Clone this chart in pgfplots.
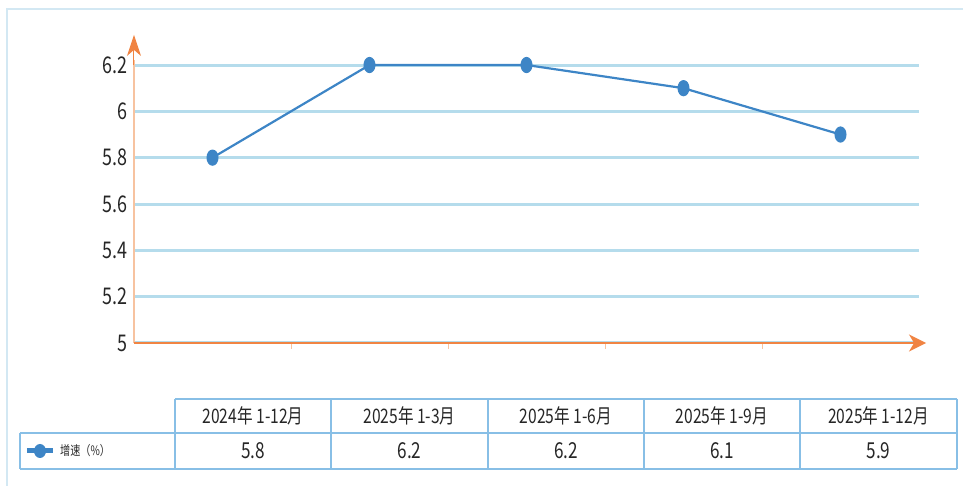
\documentclass[border=0pt]{standalone}
\usepackage{pgfplots}
\pgfplotsset{compat=1.18}
\usepackage{fontspec}
\setmainfont[FakeStretch=0.78]{Noto Sans CJK SC}
\usetikzlibrary{arrows.meta}
\definecolor{lineblue}{HTML}{3D85C6}
\definecolor{gridblue}{HTML}{B5DCEC}
\definecolor{axisorange}{HTML}{F08443}
\definecolor{lightorange}{HTML}{F7C3A0}
\definecolor{tableblue}{HTML}{88BFE6}
\definecolor{borderblue}{HTML}{D3E8F3}
\definecolor{textgray}{HTML}{262626}
\begin{document}
\begin{tikzpicture}
\path[use as bounding box] (-134pt,-143pt) rectangle (829pt,343pt);
\begin{axis}[
  at={(0,0)}, anchor=south west,
  scale only axis, width=785pt, height=280.3pt,
  xmin=0, xmax=5, ymin=5, ymax=6.21,
  axis line style={draw=none},
  xtick=\empty,
  ytick={5,5.2,5.4,5.6,5.8,6,6.2},
  yticklabels={5,5.2,5.4,5.6,5.8,6,6.2},
  major tick length=0pt, tick style={draw=none},
  ymajorgrids, grid style={gridblue, line width=3pt},
  yticklabel style={inner sep=0pt, xshift=-6pt, font=\fontsize{23}{23}\selectfont, text=textgray},
  /pgf/number format/assume math mode=true,
  clip=false,
]
\draw[lightorange, line width=2pt] (axis cs:0,5) -- (axis cs:0,6.22);
\draw[axisorange, line width=1pt, -{Stealth[length=21pt,width=14pt,inset=6pt]}] (axis cs:0,6.2) -- (axis cs:0,6.33);
\draw[lightorange, line width=1pt] (axis cs:1,5) -- (axis cs:1,4.974);
\draw[lightorange, line width=1pt] (axis cs:2,5) -- (axis cs:2,4.974);
\draw[lightorange, line width=1pt] (axis cs:3,5) -- (axis cs:3,4.974);
\draw[lightorange, line width=1pt] (axis cs:4,5) -- (axis cs:4,4.974);
\draw[axisorange, line width=2.5pt, -{Stealth[length=17pt,width=17pt,inset=5pt]}] (axis cs:0,5) -- (axis cs:5.045,5);
\addplot[lineblue, line width=2.2pt, mark=*, mark size=7pt, mark options={xscale=0.7, fill=lineblue, draw=lineblue}]
  coordinates {(0.5,5.8) (1.5,6.2) (2.5,6.2) (3.5,6.1) (4.5,5.9)};
\end{axis}
% page border (faint)
\draw[borderblue, line width=1.5pt] (-127pt,-143pt) -- (-127pt,334pt) -- (829pt,334pt);
% table
\begin{scope}[tableblue, line width=1.8pt]
\draw (41pt,-56pt) -- (823pt,-56pt);
\draw (-114pt,-90pt) -- (823pt,-90pt);
\draw (-114pt,-126pt) -- (823pt,-126pt);
\draw (-114pt,-90pt) -- (-114pt,-126pt);
\foreach \xx in {41,197,354,510,666,823} {\draw (\xx pt,-56pt) -- (\xx pt,-126pt);}
\end{scope}
\foreach \xx/\hh/\vv in {119/{2024年 1-12月}/5.8, 275.5/{2025年 1-3月}/6.2, 432/{2025年 1-6月}/6.2, 588/{2025年 1-9月}/6.1, 744.5/{2025年 1-12月}/5.9} {
  \node[text=textgray, font=\fontsize{20}{20}\selectfont, inner sep=0pt] at (\xx pt,-73pt) {\hh};
  \node[text=textgray, font=\fontsize{22}{22}\selectfont, inner sep=0pt] at (\xx pt,-108pt) {\vv};
}
% legend icon
\draw[lineblue, line width=5pt] (-107pt,-108pt) -- (-81pt,-108pt);
\fill[lineblue] (-94pt,-108pt) ellipse (6pt and 7pt);
\node[anchor=west, text=textgray, font=\fontsize{13}{13}\selectfont, inner sep=0pt] at (-74pt,-108pt) {增速（\%）};
\end{tikzpicture}
\end{document}
